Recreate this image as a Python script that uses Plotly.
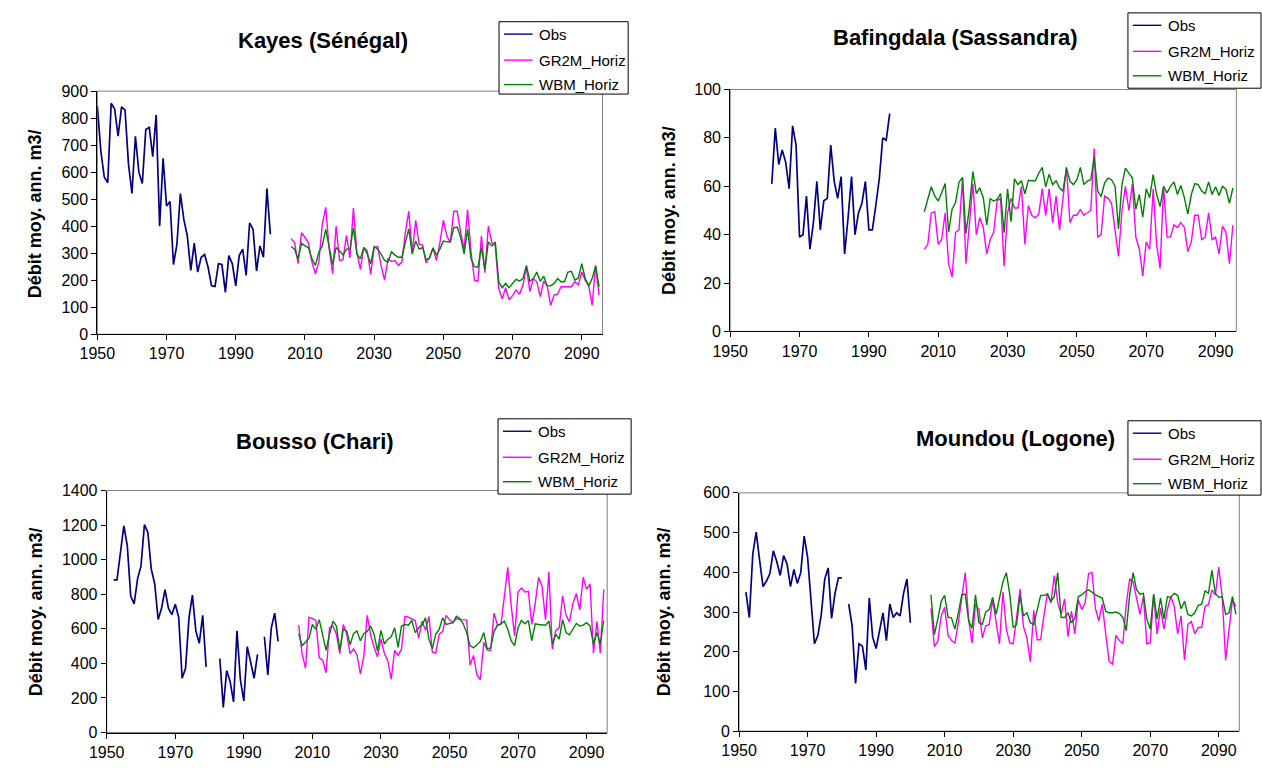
import plotly.graph_objects as go

W, H = 1262, 778

# ---------------- DATA ----------------
kayes_obs_years = list(range(1950, 2001))
kayes_obs = [845, 679, 582, 561, 855, 834, 733, 842, 830, 630,
             521, 733, 600, 558, 758, 766, 657, 812, 400, 651,
             475, 491, 258, 333, 521, 424, 364, 236, 337, 230,
             285, 295, 248, 179, 177, 261, 258, 155, 291, 261,
             179, 291, 315, 218, 412, 388, 234, 327, 285, 539, 370]

proj_years = list(range(2006, 2096))

kayes_gr2m = [354, 339, 261, 376, 358, 339, 267, 224, 267, 406,
              470, 315, 224, 400, 273, 276, 366, 282, 467, 303,
              240, 321, 309, 221, 321, 325, 255, 200, 279, 269,
              273, 255, 267, 376, 455, 303, 422, 333, 330, 264,
              285, 318, 273, 339, 422, 364, 339, 455, 455, 376,
              315, 461, 303, 200, 196, 364, 228, 400, 339, 327,
              170, 131, 172, 127, 143, 164, 148, 182, 248, 158,
              206, 194, 139, 196, 179, 107, 145, 148, 176, 176,
              176, 176, 194, 182, 230, 200, 179, 107, 255, 145]
kayes_wbm = [325, 315, 279, 337, 327, 321, 279, 255, 303, 327,
             388, 315, 258, 321, 309, 293, 315, 315, 394, 297,
             279, 321, 297, 261, 325, 315, 297, 273, 267, 305,
             293, 285, 285, 339, 390, 297, 345, 315, 321, 276,
             281, 320, 293, 315, 345, 342, 342, 394, 397, 358,
             297, 388, 279, 250, 248, 321, 240, 342, 327, 342,
             194, 172, 188, 172, 188, 203, 197, 206, 255, 196,
             206, 230, 196, 215, 179, 179, 188, 206, 194, 194,
             230, 233, 200, 208, 261, 206, 179, 206, 252, 176]

bafing_obs_years = list(range(1962, 1997))
bafing_obs = [61, 84, 69, 75, 70, 59, 85, 77, 39, 40,
              56, 34, 45, 62, 42, 54, 55, 77, 62, 55,
              64, 32, 47, 64, 40, 49, 53, 62, 42, 42,
              52, 63, 80, 79, 90]
bafing_gr2m = [34, 36, 49, 49.5, 36, 38, 49, 28, 22.5, 41,
               42, 63, 28, 44, 61, 40, 47, 43, 32, 38,
               41, 54, 55, 27, 49, 55, 51, 51, 60, 36,
               52, 48, 47, 48.5, 59, 48, 59, 45, 56, 42,
               56, 68, 45, 48, 48, 50.5, 48, 49, 50, 75.6,
               39, 40, 56, 55, 53, 42, 31, 50, 60, 50,
               61, 39, 34, 23, 37, 34, 59, 36, 26, 60,
               39, 39, 44, 43, 45, 43, 33, 37, 48, 48,
               38, 39, 49, 38, 39, 32, 43.5, 41, 28, 44]
bafing_wbm = [49.5, 54.6, 59.8, 56, 53.9, 57.3, 61.1, 41, 50.5, 53.3,
              61.7, 63.7, 40.4, 51.2, 66.1, 57, 59.3, 55.3, 44, 54.9,
              53.9, 54.6, 57, 40.8, 58.9, 45.4, 63.1, 60.7, 62.3, 56.9,
              62.5, 62.3, 62.3, 65.4, 67.8, 59.8, 65, 60.7, 62.3, 59.3,
              58, 67.5, 62.1, 60.7, 62.7, 67.8, 60.7, 62.1, 62.7, 72.2,
              58, 55.7, 61.4, 63.4, 62.7, 60, 42.4, 60.7, 67.5, 65.4,
              63.4, 50.5, 56.6, 47.2, 58.9, 55.3, 64.8, 56.6, 51.6, 60,
              57.3, 60, 61.8, 56.6, 60.3, 55.3, 48.5, 56.6, 61.1, 60.7,
              58, 57, 61.8, 56.6, 59.8, 56.2, 60, 58.7, 53, 59.3]

bousso_obs_years = list(range(1952, 2001))
bousso_obs = [883, 883, 1040, 1196, 1081, 789, 744, 889, 964, 1203,
              1158, 945, 861, 654, 719, 827, 719, 682, 742, 667,
              314, 371, 663, 795, 588, 516, 678, 380,
              None, None, None,
              428, 145, 358, 296, 177, 588, 305, 183, 497, 399, 314, 452,
              None,
              554, 333, 603, 691, 527]
bousso_gr2m = [621, 456, 371, 667, 659, 648, 433, 418, 346, 606,
               616, 569, 456, 625, 572, 456, 484, 450, 339, 441,
               678, 565, 493, 437, 540, 459, 414, 309, 475, 446,
               482, 672, 667, 659, 648, 546, 644, 591, 672, 465,
               459, 569, 584, 678, 653, 635, 659, 653, 652, 652,
               390, 446, 333, 305, 522, 478, 475, 691, 621, 625,
               785, 955, 734, 559, 813, 836, 813, 817, 625, 746,
               898, 847, 653, 930, 484, 591, 606, 791, 678, 640,
               746, 804, 710, 898, 828, 860, 459, 644, 459, 828]
bousso_wbm = [572, 503, 522, 546, 625, 597, 653, 569, 475, 569,
              644, 616, 475, 597, 588, 508, 572, 588, 531, 572,
              584, 616, 569, 471, 591, 512, 540, 554, 606, 493,
              616, 625, 621, 648, 578, 606, 621, 663, 540, 484,
              569, 597, 663, 625, 629, 635, 672, 659, 629, 578,
              503, 490, 508, 527, 578, 484, 490, 584, 621, 629,
              644, 597, 531, 503, 606, 648, 629, 648, 531, 629,
              625, 621, 621, 644, 512, 569, 540, 653, 578, 565,
              597, 631, 616, 621, 635, 616, 512, 578, 512, 648]

moundou_obs_years = list(range(1952, 2001))
moundou_obs = [350, 286, 446, 501, 430, 364, 378, 397, 454, 427,
               392, 442, 421, 364, 407, 372, 399, 491, 438, 327,
               220, 241, 294, 383, 411, 284, 347, 386, 386,
               None,
               320, 265, 120, 220, 214, 154, 335, 236, 208, 253,
               298, 228, 320, 286, 298, 290, 347, 383, 273]
moundou_gr2m = [309, 213, 227, 290, 312, 241, 228, 222, 273, 343,
                399, 282, 222, 320, 306, 235, 265, 268, 331, 276,
                220, 351, 257, 222, 220, 286, 358, 263, 235, 175,
                304, 230, 230, 292, 347, 323, 392, 323, 294, 333,
                238, 302, 245, 331, 306, 323, 397, 399, 309, 278,
                320, 245, 175, 169, 241, 228, 220, 319, 384, 376,
                335, 294, 339, 220, 222, 343, 245, 310, 257, 306,
                339, 314, 245, 290, 179, 269, 276, 245, 261, 261,
                314, 319, 355, 343, 413, 339, 179, 257, 331, 314]
moundou_wbm = [343, 243, 282, 327, 342, 287, 285, 257, 298, 343,
               345, 278, 259, 343, 273, 269, 300, 306, 337, 294,
               335, 376, 399, 345, 261, 268, 343, 290, 298, 273,
               268, 306, 342, 342, 345, 327, 339, 399, 286, 286,
               298, 273, 284, 339, 343, 351, 356, 350, 343, 339,
               335, 302, 298, 298, 300, 296, 287, 253, 343, 399,
               356, 345, 347, 282, 257, 345, 282, 335, 282, 339,
               337, 347, 342, 308, 327, 294, 290, 298, 317, 319,
               353, 347, 405, 347, 337, 339, 294, 298, 339, 294]

titles = ["Kayes (Sénégal)", "Bafingdala (Sassandra)", "Bousso (Chari)", "Moundou (Logone)"]
series_names = ["Obs", "GR2M_Horiz", "WBM_Horiz"]
ytitle = "Débit moy. ann. m3/"
x_ticks = [1950, 1970, 1990, 2010, 2030, 2050, 2070, 2090]
y_ranges = [(0, 900, 100), (0, 100, 20), (0, 1400, 200), (0, 600, 100)]

# ---------------- STYLE / LAYOUT ----------------
C_OBS, C_GR2M, C_WBM = "#000080", "#FF00FF", "#008000"
FONT = "Arial, Liberation Sans, sans-serif"

def px(x):
    return x / W

def py(y):
    return 1 - y / H

# plot-area boxes in pixels: (left, top, right, bottom)
boxes = [(80.5, 85, 593, 333.5),
         (722.5, 83.3, 1236, 330.7),
         (90, 493.3, 597.7, 740.7),
         (731.5, 495.7, 1239, 739.3)]
title_pos = [(309, 33), (951, 30), (301, 443), (1012, 440)]
ytitle_pos = [(18, 210), (661, 207), (18, 617), (655, 617)]
legend_boxes = [(488, 14, 619, 88), (1126, 5, 1261, 82), (487, 420, 622, 497), (1126, 422, 1261, 498)]

panels = [
    (kayes_obs_years, kayes_obs, kayes_gr2m, kayes_wbm),
    (bafing_obs_years, bafing_obs, bafing_gr2m, bafing_wbm),
    (bousso_obs_years, bousso_obs, bousso_gr2m, bousso_wbm),
    (moundou_obs_years, moundou_obs, moundou_gr2m, moundou_wbm),
]

fig = go.Figure()
shapes, annotations = [], []

for k, (oy, ov, g, w) in enumerate(panels):
    sfx = "" if k == 0 else str(k + 1)
    xa, ya = "x" + sfx, "y" + sfx
    fig.add_trace(go.Scatter(x=oy, y=ov, mode="lines", name=series_names[0],
                             line=dict(color=C_OBS, width=1.7), xaxis=xa, yaxis=ya,
                             showlegend=False, connectgaps=False))
    fig.add_trace(go.Scatter(x=proj_years, y=g, mode="lines", name=series_names[1],
                             line=dict(color=C_GR2M, width=1.4), xaxis=xa, yaxis=ya,
                             showlegend=False))
    fig.add_trace(go.Scatter(x=proj_years, y=w, mode="lines", name=series_names[2],
                             line=dict(color=C_WBM, width=1.4), xaxis=xa, yaxis=ya,
                             showlegend=False))

    l, t, r, b = boxes[k]
    y0, y1, dy = y_ranges[k]
    axis_common = dict(showline=True, linecolor="black", linewidth=1, ticks="outside",
                       ticklen=5, tickcolor="black", tickwidth=1, showgrid=False,
                       zeroline=False, tickfont=dict(family=FONT, size=16, color="black"))
    fig.layout["xaxis" + sfx] = dict(domain=[px(l), px(r)], anchor=ya, range=[1950, 2096],
                                     tickmode="array", tickvals=x_ticks, **axis_common)
    fig.layout["yaxis" + sfx] = dict(domain=[py(b), py(t)], anchor=xa, range=[y0, y1],
                                     tick0=y0, dtick=dy, **axis_common)

    # grey plot-area frame
    shapes.append(dict(type="rect", xref=xa + " domain", yref=ya + " domain",
                       x0=0, x1=1, y0=0, y1=1, line=dict(color="#808080", width=1),
                       fillcolor="rgba(0,0,0,0)", layer="below"))

    # chart title
    tx, ty = title_pos[k]
    annotations.append(dict(text="<b>%s</b>" % titles[k], x=px(tx), y=py(ty), xref="paper",
                            yref="paper", showarrow=False, xanchor="center", yanchor="middle",
                            font=dict(family=FONT, size=22, color="black")))
    # y-axis title
    ax_, ay_ = ytitle_pos[k]
    annotations.append(dict(text="<b>%s</b>" % ytitle, x=px(ax_), y=py(ay_), xref="paper",
                            yref="paper", showarrow=False, textangle=-90, xanchor="center",
                            yanchor="middle", font=dict(family=FONT, size=18, color="black")))

    # legend box
    lx0, ly0, lx1, ly1 = legend_boxes[k]
    shapes.append(dict(type="rect", xref="paper", yref="paper", x0=px(lx0), x1=px(lx1),
                       y0=py(ly1), y1=py(ly0), line=dict(color="black", width=1),
                       fillcolor="white", layer="above"))
    rows = [ly0 + 12.7, ly0 + 39.3, ly0 + 64.3]
    for name, col, ry in zip(series_names, [C_OBS, C_GR2M, C_WBM], rows):
        shapes.append(dict(type="line", xref="paper", yref="paper", x0=px(lx0 + 5),
                           x1=px(lx0 + 34), y0=py(ry), y1=py(ry),
                           line=dict(color=col, width=1.4), layer="above"))
        annotations.append(dict(text=name, x=px(lx0 + 39), y=py(ry), xref="paper",
                                yref="paper", showarrow=False, xanchor="left",
                                yanchor="middle",
                                font=dict(family=FONT, size=15, color="black")))

fig.update_layout(width=W, height=H, margin=dict(l=0, r=0, t=0, b=0, pad=0),
                  paper_bgcolor="white", plot_bgcolor="white", showlegend=False,
                  shapes=shapes, annotations=annotations,
                  font=dict(family=FONT, color="black"))

fig.write_html("out.html", config={"displayModeBar": False},
               post_script="document.body.style.margin='0';document.body.style.overflow='hidden';")
